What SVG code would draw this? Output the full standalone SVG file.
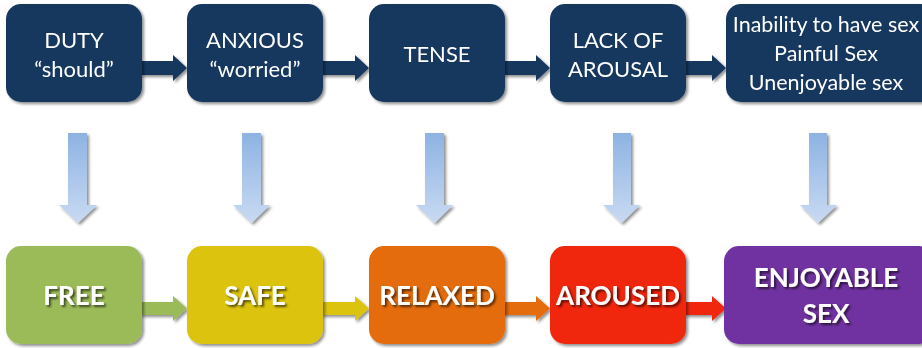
<svg xmlns="http://www.w3.org/2000/svg" width="922" height="348" viewBox="0 0 922 348">
  <defs>
    <linearGradient id="downGrad" x1="0" y1="0" x2="0" y2="1">
      <stop offset="0" stop-color="#8db3e2"/>
      <stop offset="1" stop-color="#c9daf2"/>
    </linearGradient>
    <filter id="shadow" x="-10%" y="-10%" width="125%" height="130%">
      <feGaussianBlur in="SourceAlpha" stdDeviation="1.6"/>
      <feOffset dx="1.5" dy="2" result="b"/>
      <feComponentTransfer><feFuncA type="linear" slope="0.45"/></feComponentTransfer>
      <feMerge><feMergeNode/><feMergeNode in="SourceGraphic"/></feMerge>
    </filter>
    <filter id="textShadow" x="-10%" y="-20%" width="130%" height="150%">
      <feGaussianBlur in="SourceAlpha" stdDeviation="0.8"/>
      <feOffset dx="1.5" dy="1.5"/>
      <feComponentTransfer><feFuncA type="linear" slope="0.6"/></feComponentTransfer>
      <feMerge><feMergeNode/><feMergeNode in="SourceGraphic"/></feMerge>
    </filter>
  </defs>
  <style>
    .top { fill: #17375e; }
    .lbl { font-family: Lato, "Open Sans", "Liberation Sans", sans-serif; font-size: 22px; fill: #ffffff; text-anchor: middle; }
    .small { font-size: 21.5px; }
    .bold { font-family: Lato, "Open Sans", "Liberation Sans", sans-serif; font-weight: bold; font-size: 26px; fill: #ffffff; text-anchor: middle; }
    .down { fill: url(#downGrad); }
  </style>

  <!-- connectors -->
  <g id="connectors">
    <!-- top row -->
    <g class="top" filter="url(#shadow)">
      <path d="M140,61 H173 V55 L187,68 L173,81 V75 H140 Z"/>
      <path d="M321,61 H355 V55 L369,68 L355,81 V75 H321 Z"/>
      <path d="M503,61 H536 V55 L550,68 L536,81 V75 H503 Z"/>
      <path d="M684,61 H712 V55 L726,68 L712,81 V75 H684 Z"/>
    </g>
    <!-- vertical arrows -->
    <g class="down" filter="url(#shadow)">
      <path d="M68,133 H87 V205 H97 L78,223 L59,205 H68 Z"/>
      <path d="M242,133 H261 V205 H270 L251.5,223 L233,205 H242 Z"/>
      <path d="M425,133 H444 V205 H453 L434.5,223 L416,205 H425 Z"/>
      <path d="M613,133 H631 V205 H640 L621.5,223 L603,205 H613 Z"/>
      <path d="M809,133 H827 V205 H837 L818,223 L800,205 H809 Z"/>
    </g>
    <!-- bottom row -->
    <g filter="url(#shadow)">
      <path fill="#9bbb59" d="M140,302 H173 V296 L187,308.5 L173,321 V315 H140 Z"/>
      <path fill="#dcc30f" d="M321,302 H355 V296 L369,308.5 L355,321 V315 H321 Z"/>
      <path fill="#e46c0a" d="M503,302 H536 V296 L550,308.5 L536,321 V315 H503 Z"/>
      <path fill="#f02810" d="M684,302 H712 V296 L726,308.5 L712,321 V315 H684 Z"/>
    </g>
  </g>

  <!-- top row nodes -->
  <g id="duty" filter="url(#shadow)">
    <rect class="top" x="6" y="4" width="136" height="98" rx="15"/>
    <text class="lbl" x="74" y="48">DUTY</text>
    <text class="lbl" x="74" y="77">“should”</text>
  </g>
  <g id="anxious" filter="url(#shadow)">
    <rect class="top" x="187" y="4" width="136" height="98" rx="15"/>
    <text class="lbl" x="255" y="48">ANXIOUS</text>
    <text class="lbl" x="255" y="77">“worried”</text>
  </g>
  <g id="tense" filter="url(#shadow)">
    <rect class="top" x="369" y="4" width="136" height="98" rx="15"/>
    <text class="lbl" x="437" y="62">TENSE</text>
  </g>
  <g id="lack-of-arousal" filter="url(#shadow)">
    <rect class="top" x="550" y="4" width="136" height="98" rx="15"/>
    <text class="lbl" x="618" y="48">LACK OF</text>
    <text class="lbl" x="618" y="77">AROUSAL</text>
  </g>
  <g id="outcomes" filter="url(#shadow)">
    <rect class="top" x="726" y="4" width="210" height="98" rx="15"/>
    <text class="lbl small" x="826" y="32">Inability to have sex</text>
    <text class="lbl small" x="826" y="61">Painful Sex</text>
    <text class="lbl small" x="826" y="90">Unenjoyable sex</text>
  </g>

  <!-- bottom row nodes -->
  <g id="free">
    <rect filter="url(#shadow)" fill="#9bbb59" x="6" y="246" width="136" height="98" rx="15"/>
    <text class="bold" filter="url(#textShadow)" x="74" y="305">FREE</text>
  </g>
  <g id="safe">
    <rect filter="url(#shadow)" fill="#dcc30f" x="187" y="246" width="136" height="98" rx="15"/>
    <text class="bold" filter="url(#textShadow)" x="255" y="305">SAFE</text>
  </g>
  <g id="relaxed">
    <rect filter="url(#shadow)" fill="#e46c0a" x="369" y="246" width="136" height="98" rx="15"/>
    <text class="bold" filter="url(#textShadow)" x="437" y="305">RELAXED</text>
  </g>
  <g id="aroused">
    <rect filter="url(#shadow)" fill="#f02810" x="550" y="246" width="136" height="98" rx="15"/>
    <text class="bold" filter="url(#textShadow)" x="618" y="305">AROUSED</text>
  </g>
  <g id="enjoyable-sex">
    <rect filter="url(#shadow)" fill="#7030a0" x="724" y="246" width="210" height="98" rx="15"/>
    <text class="bold" filter="url(#textShadow)" x="826" y="287">ENJOYABLE</text>
    <text class="bold" filter="url(#textShadow)" x="826" y="323">SEX</text>
  </g>
</svg>
